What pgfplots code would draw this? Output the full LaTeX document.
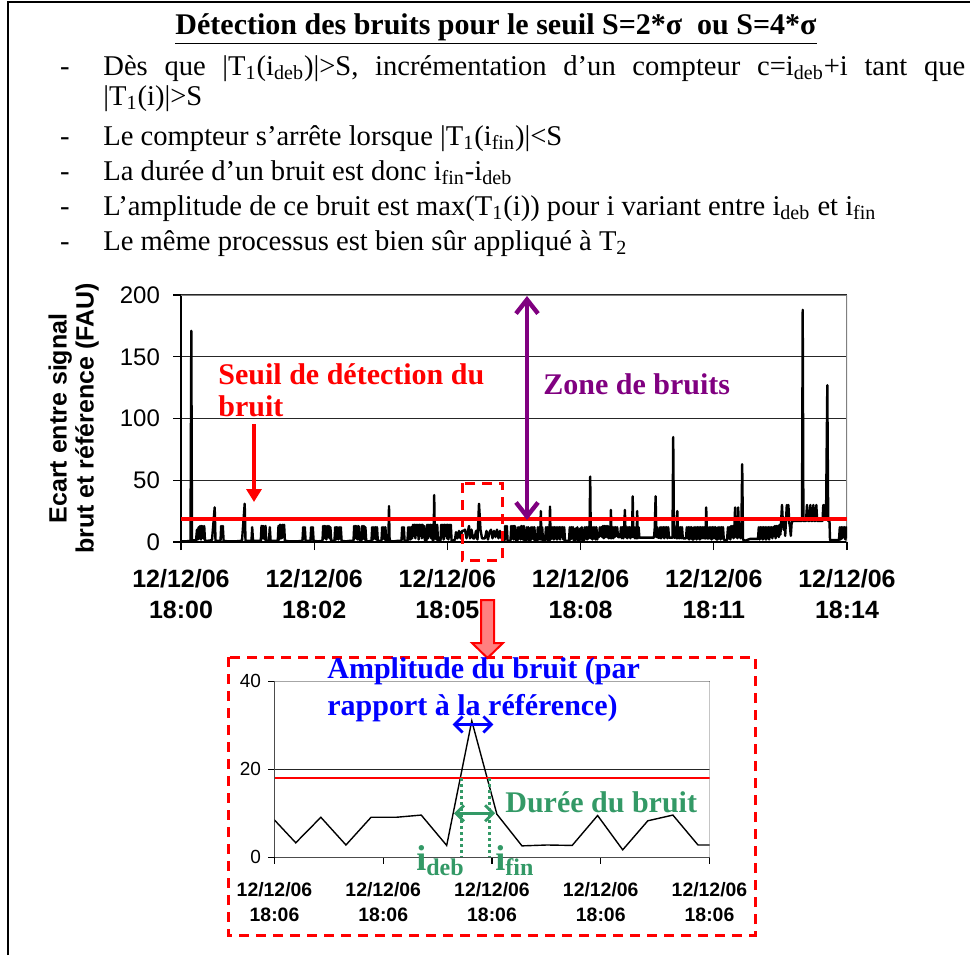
\documentclass[border=0pt]{standalone}
\usepackage{fontspec}
\setmainfont{Liberation Serif}
\setsansfont{Liberation Sans}
\usepackage{pgfplots}
\pgfplotsset{compat=1.18}
\usetikzlibrary{arrows.meta}
\definecolor{zpurple}{RGB}{128,0,128}
\definecolor{zgreen}{RGB}{51,153,102}
\definecolor{zblue}{RGB}{0,0,255}
\definecolor{zpink}{RGB}{255,128,128}
\definecolor{zgray}{RGB}{128,128,128}
\newcommand{\bodyfont}{\fontsize{14.3}{16}\selectfont}
\newcommand{\annfont}{\fontsize{15}{16.5}\selectfont\bfseries}
\begin{document}
\begin{tikzpicture}[x=0.5pt,y=-0.5pt]
\path[use as bounding box] (0,0) rectangle (970,955);
% frame
\draw[line width=1pt] (8,955) -- (8,2) -- (970,2);
% title and text
\node[anchor=base] at (496,34) {\fontsize{15}{18}\selectfont\bfseries\underline{Détection des bruits pour le seuil S=2*σ\ \ ou S=4*σ}};
\foreach \yy in {75,145,180,215,250} {\node[anchor=base] at (65,\yy) {\bodyfont -};}
\node[anchor=base west, inner sep=0pt] at (103,75) {\bodyfont\makebox[431pt][s]{Dès que |T\textsubscript{1}(i\textsubscript{deb})|>S, incrémentation d’un compteur c=i\textsubscript{deb}+i tant que}};
\node[anchor=base west, inner sep=0pt] at (103,105) {\bodyfont |T\textsubscript{1}(i)|>S};
\node[anchor=base west, inner sep=0pt] at (103,145) {\bodyfont Le compteur s’arrête lorsque |T\textsubscript{1}(i\textsubscript{fin})|<S};
\node[anchor=base west, inner sep=0pt] at (103,180) {\bodyfont La durée d’un bruit est donc i\textsubscript{fin}-i\textsubscript{deb}};
\node[anchor=base west, inner sep=0pt] at (103,215) {\bodyfont L’amplitude de ce bruit est max(T\textsubscript{1}(i)) pour i variant entre i\textsubscript{deb} et i\textsubscript{fin}};
\node[anchor=base west, inner sep=0pt] at (103,250) {\bodyfont Le même processus est bien sûr appliqué à T\textsubscript{2}};

% main chart
\begin{axis}[
  at={(90.5pt,-271pt)}, anchor=south west,
  scale only axis, width=333pt, height=123.5pt,
  xmin=181, xmax=847, ymin=0, ymax=200,
  axis x line*=bottom, axis y line*=left,
  xtick={181,314.2,447.4,580.6,713.8,847},
  xticklabels={{12/12/06\\18:00},{12/12/06\\18:02},{12/12/06\\18:05},{12/12/06\\18:08},{12/12/06\\18:11},{12/12/06\\18:14}},
  ytick={0,50,100,150,200},
  ymajorgrids, major grid style={black!85, line width=0.6pt},
  tick align=outside, major tick length=4pt,
  tick style={black, line width=0.6pt},
  axis line style={black, line width=0.7pt},
  xticklabel style={font=\sffamily\bfseries\fontsize{12.5}{15.5}\selectfont, align=center, yshift=-6pt},
  yticklabel style={font=\sffamily\fontsize{12}{14}\selectfont, xshift=-3pt},
  /pgf/number format/assume math mode=true,
  ylabel={Ecart entre signal\\brut et référence (FAU)},
  ylabel style={at={(axis description cs:-0.161,0.5)}, anchor=center, align=center, font=\sffamily\bfseries\fontsize{12.5}{13.5}\selectfont},
]
\draw[zgray, line width=0.7pt] (rel axis cs:0,1) -- (rel axis cs:1,1) -- (rel axis cs:1,0);
\addplot[black, line width=1.2pt, line join=round] coordinates {
(181,0.5) (185,0.5) (189,0.8) (190.5,1) (191.3,171) (192,1) (194,1.5) (196,1)
(197,10) (197.8,2) (198.6,12) (199.4,3) (200.2,13) (201,2) (201.8,13) (202.6,12) (203.4,3) (204.2,13) (205,1)
(208,1) (212,1.5) (214.7,28) (215.5,1) (218,1) (220.5,1) (221.2,13) (222,4) (222.8,13) (223.6,1)
(228,0.5) (235,0.5) (242,1) (244.7,31) (245.5,1) (249,1) (251.5,1) (252.2,12) (253,1) (258,1)
(260.8,1) (261.5,13) (262.3,3) (263.1,13) (263.9,12) (264.7,2) (265.5,13) (266.3,1) (269,1) (269.8,12) (270.6,1)
(274,1) (277.8,1) (278.5,13) (279.3,2) (280.1,14) (280.9,13) (281.7,3) (282.5,14) (283.3,4) (284.1,14) (284.9,1)
(290,0.5) (297,0.5) (302.5,1) (303.2,12) (304,3) (304.8,12) (305.6,1) (310.5,1) (311.2,12) (312,2) (312.8,12) (313.6,1)
(318,0.5) (322.5,1) (323.2,13) (324,3) (324.8,13) (325.6,12) (326.4,2) (327.2,13) (328,4) (328.8,13) (329.6,3) (330.4,12) (331.2,1)
(334.5,1) (335.2,12) (336,2) (336.8,12) (337.6,11) (338.4,2) (339.2,12) (340,3) (340.8,12) (341.6,1)
(346,0.5) (350,1) (353.5,1) (354.2,13) (355,3) (355.8,13) (356.6,12) (357.4,2) (358.2,13) (359,12) (359.8,1)
(361.5,1) (362.2,13) (363,3) (363.8,13) (364.6,2) (365.4,12) (366.2,1) (368,0.5)
(371.5,1) (372.2,12) (373,2) (373.8,12) (374.6,3) (375.4,12) (376.2,2) (377,12) (377.8,1)
(381.5,1) (382.2,12) (383,3) (383.8,12) (384.6,2) (385.4,12) (386.2,1) (388.4,1) (389,29) (389.6,1)
(393,0.5) (398,1) (401.5,1) (402.2,12) (403,3) (403.8,12) (404.6,1) (407.5,1) (408.2,12) (409,2) (409.8,12)
(410.6,2) (411.4,12) (412.2,3) (413,14) (413.8,5) (414.6,14) (415.4,3) (416.2,14) (417,6) (417.8,14) (418.6,2)
(419.4,14) (420.2,5) (421,14) (421.8,3) (422.6,14) (423.4,4) (424.2,13) (425,1) (426.5,1)
(427.2,14) (428,3) (428.8,14) (429.6,5) (430.4,14) (431.2,3) (432,14) (432.8,1) (433.6,2) (434.2,38) (434.8,3)
(435.6,14) (436.4,2) (437.2,14) (438,1) (440.5,1) (441.2,14) (442,4) (442.8,14) (443.6,2) (444.4,14) (445.2,5)
(446,14) (446.8,3) (447.6,14) (448.4,2) (449.2,14) (450,4) (450.8,14) (451.6,1) (453,1) (455,2)
(456,8) (457.5,3) (459,9) (460.5,3) (462,9) (463.5,9) (465,10) (466.5,3) (468,9) (469,13) (470,3) (471.5,10)
(473,3) (474.5,3) (476,9) (477.5,2) (479,31) (480.5,10) (482,3) (483.5,3) (485,3) (486.5,9) (488,2) (489.5,8)
(491,10) (492.5,3) (494,9) (495.5,4) (497,10) (498.5,3) (500,9) (501.5,3) (503,2)
(504.5,1) (505.2,13) (506,3) (506.8,13) (507.6,1) (509,1)
(510.5,1) (511.2,13) (512,3) (512.8,13) (513.6,2) (514.4,13) (515.2,12) (516,1) (517.5,1) (518.2,12) (519,3)
(519.8,12) (520.6,2) (521.4,13) (522.2,12) (523,2) (523.8,13) (524.6,1) (526,1) (526.8,12) (527.6,2) (528.4,12)
(529.2,1) (530.5,1) (531.2,12) (532,3) (532.8,12) (533.6,2) (534.4,12) (535.2,1) (537,1) (537.8,12) (538.6,2)
(539.4,12) (540.2,2) (540.8,25) (541.4,2) (542.2,12) (543,1) (545,1) (546,12) (546.8,2) (547.6,12) (548.4,1)
(549.4,1) (550,28.6) (550.6,2) (551.4,12) (552.2,3) (553,12) (553.8,2) (554.6,12) (555.4,3) (556.2,12) (557,2)
(557.8,12) (558.6,3) (559.4,12) (560.2,2) (561,12) (561.8,4) (562.6,12) (563.4,2) (564.2,12) (565,1) (567,1)
(569,1) (569.8,12) (570.6,2) (571.4,12) (572.2,3) (573,12) (573.8,1) (575,1) (575.8,11) (576.6,2) (577.4,12)
(578.2,1) (579.5,1) (580.2,11) (581,2) (581.8,12) (582.6,1) (584,1) (584.8,12) (585.6,3) (586.4,12) (587.2,2)
(588,12) (588.8,3) (589.6,12) (590.2,53) (590.8,3) (591.6,12) (592.4,2) (593.2,12) (594,3) (594.8,12) (595.6,2)
(596.4,12) (597.2,2) (598,5) (599,4) (599.8,12) (600.6,5) (601.4,12) (602.2,4) (603,13) (603.8,3) (604.6,13)
(605.4,4) (606.2,13) (607,4) (607.8,13) (608.6,3) (609.4,12) (610.2,3) (610.9,26) (611.6,3) (612.4,12) (613.2,3)
(614,12) (614.8,4) (615.6,12) (616.4,5) (617.2,12) (618,4) (619.5,4) (620.2,5) (621,12) (621.8,3) (622.6,12)
(623.4,3) (624.2,12) (624.9,26) (625.6,4) (626.4,12) (627.2,3) (628,12) (628.8,4) (629.6,12) (630.4,3) (631.2,12)
(632,4) (632.7,37) (633.4,4) (634.2,12) (635,3) (635.8,12) (636.6,3) (637.2,25) (637.8,3) (638.6,12) (639.4,3.5)
(645,3.5) (650,3.5) (654,3.5) (654.8,12) (655.6,37) (656.4,4) (657.2,12) (658,3.5) (659.5,3.5) (660.2,12) (661,3)
(661.8,12) (662.6,4) (663.4,12) (664.2,3) (665,12) (665.8,4) (666.6,12) (667.4,3) (668.2,12) (669,3.5) (671,3.5)
(672.5,3.5) (673.2,85) (674,3.5) (675,3.5) (675.8,12) (676.6,3) (677.3,25) (678,3) (678.8,12) (679.6,3) (680.4,12)
(681.2,3) (682,12) (682.8,3) (684,3) (686,3) (686.8,12) (687.6,3) (688.4,12) (689.2,2) (690,12) (690.8,3) (691.6,12)
(692.4,2) (693.5,2) (694.2,12) (695,3) (695.8,12) (696.6,2) (697.4,12) (698.2,3) (699,12) (699.8,2) (700.6,12)
(701.4,3) (702.2,12) (703,3) (703.8,12) (704.6,3) (705.5,3) (706.2,28) (707,3) (708.5,3) (709.2,12) (710,3)
(710.8,12) (711.6,2) (712.4,12) (713.2,3) (714,12) (714.8,3) (715.6,12) (716.4,2) (717.5,2) (718.2,12) (719,3)
(719.8,12) (720.6,2) (721.4,12) (722.2,3) (723,12) (723.8,2) (725,1.5) (727,1.5) (728,12) (728.8,3) (729.6,12)
(730.4,2) (731.2,13) (732,4) (732.8,13) (733.6,3) (734.4,13) (735.1,28) (735.8,4) (736.6,13) (737.4,3) (738.2,28)
(739,4) (739.8,13) (740.6,3) (741.4,13) (742.2,63) (743,2) (745,1) (750,2.5) (756,2.5) (758,2.5) (758.8,12)
(759.6,2) (760.4,12) (761.2,3) (762,12) (762.8,2) (763.6,12) (764.4,3) (765.2,12) (766,2) (766.8,12) (767.6,3)
(768.4,12) (769.2,2) (770,12) (770.8,4) (771.6,12) (772.4,3) (773.2,12) (774,5) (774.8,13) (775.6,3) (776.4,13)
(777.2,5) (778,13) (778.8,4) (779.6,14) (780.4,6) (781.2,18) (782,30) (782.8,17) (783.6,10) (784.4,18) (785.2,5)
(786,18) (786.8,30) (787.6,18) (788.4,30) (789.2,16) (790,12) (790.8,5) (791.6,15) (792.5,17) (795,17) (800,17)
(802,17) (802.7,188) (803.4,17) (806,17) (807,30) (808,17) (809.5,17) (810.3,30) (811.2,17) (812.5,17) (813.3,30)
(814.2,17) (815.5,17) (816.3,30) (817.2,17) (820,17) (822.5,17) (823.3,30) (824.2,20) (825,30) (826,18) (827.3,127)
(828.2,17) (829.5,17) (830,1.5) (835,1.5) (839,1.5) (839.8,12) (840.6,2) (841.4,12) (842.2,3) (843,12) (843.8,4)
(844.6,12) (845.4,2) (846.2,12) (847,3)
};
\addplot[red, line width=2pt] coordinates {(181,19) (847,19)};
\end{axis}

% inset chart
\begin{axis}[
  at={(137.25pt,-428.65pt)}, anchor=south west,
  scale only axis, width=217.5pt, height=88pt,
  xmin=157, xmax=1405, ymin=0, ymax=40,
  axis x line*=bottom, axis y line*=left,
  xtick={157,469,781,1093,1405},
  xticklabels={{12/12/06\\18:06},{12/12/06\\18:06},{12/12/06\\18:06},{12/12/06\\18:06},{12/12/06\\18:06}},
  ytick={0,20,40},
  ymajorgrids, major grid style={black!85, line width=0.5pt},
  tick align=outside, major tick length=3.2pt,
  tick style={black, line width=0.6pt},
  axis line style={black!70, line width=0.7pt},
  xticklabel style={font=\sffamily\bfseries\fontsize{9.7}{12.5}\selectfont, align=center, yshift=-6pt},
  yticklabel style={font=\sffamily\fontsize{9.5}{11}\selectfont},
  /pgf/number format/assume math mode=true,
]
\draw[zgray!70, line width=0.6pt] (rel axis cs:0,1) -- (rel axis cs:1,1) -- (rel axis cs:1,0);
\addplot[black, line width=0.7pt] coordinates {
(146,9.4) (218,3.3) (290,9.1) (362,2.8) (434,9.1) (506,9.1) (578,9.6) (651,2.7) (723,31) (795,9.8)
(867,2.6) (939,2.8) (1011,2.7) (1084,9.5) (1156,1.7) (1228,8.3) (1300,9.6) (1372,2.8) (1444,2.8)
};
\addplot[red, line width=1pt] coordinates {(157,18.1) (1405,18.1)};
\draw[zgreen, line width=1.4pt, dash pattern=on 1.4pt off 1.6pt] (axis cs:693,18) -- (axis cs:693,0);
\draw[zgreen, line width=1.4pt, dash pattern=on 1.4pt off 1.6pt] (axis cs:773,18) -- (axis cs:773,0);
\draw[zgreen, line width=1.4pt, {Straight Barb[length=4pt,width=8pt]}-{Straight Barb[length=4pt,width=8pt]}] (axis cs:672,10) -- (axis cs:790,10);
\draw[zblue, line width=1.4pt, {Straight Barb[length=4pt,width=8pt]}-{Straight Barb[length=4pt,width=8pt]}] (axis cs:668,30.2) -- (axis cs:785,30.2);
\end{axis}

% annotations main chart
\node[anchor=base west, inner sep=0pt, text=red, align=left] at (218,384) {\annfont Seuil de détection du};
\node[anchor=base west, inner sep=0pt, text=red] at (218,416) {\annfont bruit};
\draw[red, line width=2pt, -{Triangle[width=7.5pt,length=6.5pt]}] (254,424) -- (254,502);
\node[anchor=base west, inner sep=0pt, text=zpurple] at (543,394) {\annfont Zone de bruits};
\draw[zpurple, line width=2.2pt, {Straight Barb[length=7pt,width=11pt]}-{Straight Barb[length=7pt,width=11pt]}] (527,296) -- (527,520);
\draw[red, line width=1.5pt, dash pattern=on 5pt off 3.5pt] (462,483) rectangle (502,560);
\filldraw[fill=zpink, draw=red, line width=1pt] (481,600) -- (494,600) -- (494,643) -- (503,643) -- (487.5,658) -- (472,643) -- (481,643) -- cycle;
\draw[red, line width=1.5pt, dash pattern=on 5pt off 3.5pt] (228,657) rectangle (755,935);
% annotations inset
\node[anchor=base west, inner sep=0pt, text=zblue] at (327,678) {\annfont Amplitude du bruit (par};
\node[anchor=base west, inner sep=0pt, text=zblue] at (327,715) {\annfont rapport à la référence)};
\node[anchor=base west, inner sep=0pt, text=zgreen] at (505,812) {\annfont Durée du bruit};
\node[anchor=base west, inner sep=0pt, text=zgreen] at (416,870) {\fontsize{18}{18}\selectfont\bfseries i\raisebox{-2.5pt}{\fontsize{12}{12}\selectfont deb}};
\node[anchor=base west, inner sep=0pt, text=zgreen] at (495,870) {\fontsize{18}{18}\selectfont\bfseries i\raisebox{-2.5pt}{\fontsize{12}{12}\selectfont fin}};
\end{tikzpicture}
\end{document}
